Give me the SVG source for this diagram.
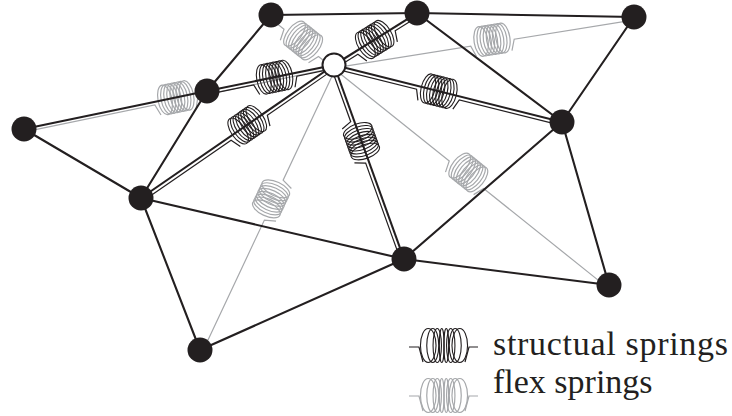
<svg xmlns="http://www.w3.org/2000/svg" xmlns:xlink="http://www.w3.org/1999/xlink" width="732" height="416" viewBox="0 0 732 416">
  <style>
    .edge { stroke:#231f20; stroke-width:2.1; fill:none; stroke-linecap:round; }
    .wire-s { stroke:#231f20; stroke-width:1.2; fill:none; }
    .wire-f { stroke:#a6a8ab; stroke-width:1.2; fill:none; }
    .coil-s { stroke:#231f20; stroke-width:1.1; fill:none; }
    .coil-f { stroke:#a6a8ab; stroke-width:1.2; fill:none; }
    .node { fill:#231f20; }
    .hub { fill:#ffffff; stroke:#231f20; stroke-width:2; }
    .label { font-family:"Liberation Serif", "Times New Roman", serif; font-size:34px; fill:#231f20; }
  </style>
  <defs>
    <!-- helical coil seen from the side, axis along x -->
    <g id="coil">
      <ellipse cx="-11" cy="0" rx="7" ry="15"/>
      <ellipse cx="-7.86" cy="0" rx="7" ry="15"/>
      <ellipse cx="-4.71" cy="0" rx="7" ry="15"/>
      <ellipse cx="-1.57" cy="0" rx="7" ry="15"/>
      <ellipse cx="1.57" cy="0" rx="7" ry="15"/>
      <ellipse cx="4.71" cy="0" rx="7" ry="15"/>
      <ellipse cx="7.86" cy="0" rx="7" ry="15"/>
      <ellipse cx="11" cy="0" rx="7" ry="15"/>
    </g>
    <!-- legend coil drawn in perspective -->
    <g id="lcoil">
      <ellipse cx="-15.75" cy="0" rx="7.8" ry="17"/>
      <ellipse cx="-11.25" cy="0" rx="6" ry="17"/>
      <ellipse cx="-6.75" cy="0" rx="4.2" ry="17"/>
      <ellipse cx="-2.25" cy="0" rx="2.4" ry="17"/>
      <ellipse cx="2.25" cy="0" rx="2.4" ry="17"/>
      <ellipse cx="6.75" cy="0" rx="4.2" ry="17"/>
      <ellipse cx="11.25" cy="0" rx="6" ry="17"/>
      <ellipse cx="15.75" cy="0" rx="7.8" ry="17"/>
    </g>
  </defs>

  <g id="connectors">
    <!-- flex springs (second neighbours) -->
    <g id="flex-E-O" transform="translate(24,129) rotate(-11.67)">
      <path class="wire-f" d="M0,3 H133 L137,14 M173,14 L177,3 H316.5"/>
      <use xlink:href="#coil" x="155" class="coil-f"/>
    </g>
    <g id="flex-A-O" transform="translate(271,15) rotate(38.44)">
      <path class="wire-f" d="M0,3 H19 L23,14 M59,14 L63,3 H80.4"/>
      <use xlink:href="#coil" x="41" class="coil-f"/>
    </g>
    <g id="flex-O-C" transform="translate(334,65) rotate(-9.09)">
      <path class="wire-f" d="M0,3 H138 L142,14 M178,14 L182,3 H303.8"/>
      <use xlink:href="#coil" x="160" class="coil-f"/>
    </g>
    <g id="flex-J-O" transform="translate(200,350) rotate(-64.82)">
      <path class="wire-f" d="M0,3 H145 L149,14 M185,14 L189,3 H314.9"/>
      <use xlink:href="#coil" x="167" class="coil-f"/>
    </g>
    <g id="flex-O-I" transform="translate(334,65) rotate(38.66)">
      <path class="wire-f" d="M0,3 H150 L154,14 M190,14 L194,3 H352.2"/>
      <use xlink:href="#coil" x="172" class="coil-f"/>
    </g>

    <!-- mesh edges -->
    <g id="edges">
      <line class="edge" x1="271" y1="15" x2="417" y2="13"/>
      <line class="edge" x1="417" y1="13" x2="634" y2="17"/>
      <line class="edge" x1="271" y1="15" x2="207" y2="91"/>
      <line class="edge" x1="417" y1="13" x2="562" y2="122"/>
      <line class="edge" x1="634" y1="17" x2="562" y2="122"/>
      <line class="edge" x1="24" y1="129" x2="207" y2="91"/>
      <line class="edge" x1="24" y1="129" x2="141" y2="198"/>
      <line class="edge" x1="207" y1="91" x2="141" y2="198"/>
      <line class="edge" x1="141" y1="198" x2="404" y2="259"/>
      <line class="edge" x1="141" y1="198" x2="200" y2="350"/>
      <line class="edge" x1="200" y1="350" x2="404" y2="259"/>
      <line class="edge" x1="404" y1="259" x2="562" y2="122"/>
      <line class="edge" x1="404" y1="259" x2="609" y2="285"/>
      <line class="edge" x1="562" y1="122" x2="609" y2="285"/>
    </g>

    <!-- structural springs from the hub -->
    <g id="struct-D-O" transform="translate(207,91) rotate(-11.57)">
      <line class="edge" x1="0" y1="0" x2="129.6" y2="0"/>
      <path class="wire-s" d="M0,3.5 H47 L51,14 M87,14 L91,3.5 H129.6"/>
      <use xlink:href="#coil" x="69" class="coil-s"/>
    </g>
    <g id="struct-O-B" transform="translate(334,65) rotate(-32.06)">
      <line class="edge" x1="0" y1="0" x2="97.9" y2="0"/>
      <path class="wire-s" d="M0,3.5 H26 L30,14 M66,14 L70,3.5 H97.9"/>
      <use xlink:href="#coil" x="48" class="coil-s"/>
    </g>
    <g id="struct-O-F" transform="translate(334,65) rotate(14.04)">
      <line class="edge" x1="0" y1="0" x2="235" y2="0"/>
      <path class="wire-s" d="M0,3.5 H86 L90,14 M126,14 L130,3.5 H235"/>
      <use xlink:href="#coil" x="108" class="coil-s"/>
    </g>
    <g id="struct-O-H" transform="translate(334,65) rotate(70.16)">
      <line class="edge" x1="0" y1="0" x2="206.2" y2="0"/>
      <path class="wire-s" d="M0,3.5 H59 L63,14 M99,14 L103,3.5 H206.2"/>
      <use xlink:href="#coil" x="81" class="coil-s"/>
    </g>
    <g id="struct-G-O" transform="translate(141,198) rotate(-34.57)">
      <line class="edge" x1="0" y1="0" x2="234.4" y2="0"/>
      <path class="wire-s" d="M0,3.5 H107 L111,14 M147,14 L151,3.5 H234.4"/>
      <use xlink:href="#coil" x="129" class="coil-s"/>
    </g>
  </g>

  <!-- mass points -->
  <g id="node-A"><circle class="node" cx="271" cy="15" r="12.5"/></g>
  <g id="node-B"><circle class="node" cx="417" cy="13" r="12.5"/></g>
  <g id="node-C"><circle class="node" cx="634" cy="17" r="12.5"/></g>
  <g id="node-D"><circle class="node" cx="207" cy="91" r="12.5"/></g>
  <g id="node-E"><circle class="node" cx="24" cy="129" r="12.5"/></g>
  <g id="node-F"><circle class="node" cx="562" cy="122" r="12.5"/></g>
  <g id="node-G"><circle class="node" cx="141" cy="198" r="12.5"/></g>
  <g id="node-H"><circle class="node" cx="404" cy="259" r="12.5"/></g>
  <g id="node-I"><circle class="node" cx="609" cy="285" r="12.5"/></g>
  <g id="node-J"><circle class="node" cx="200" cy="350" r="12.5"/></g>
  <g id="node-O"><circle class="hub" cx="334" cy="65" r="11.5"/></g>

  <!-- legend -->
  <g id="legend">
    <g id="legend-structural">
      <path class="wire-s" d="M409,347 H419 L423,362 M465,362 L469,347 H478"/>
      <use xlink:href="#lcoil" x="444" y="345.5" class="coil-s"/>
      <text class="label" x="493" y="355" textLength="235" lengthAdjust="spacing">structual springs</text>
    </g>
    <g id="legend-flex">
      <path class="wire-f" d="M409,396 H419 L423,411 M465,411 L469,396 H478"/>
      <use xlink:href="#lcoil" x="444" y="395.5" class="coil-f"/>
      <text class="label" x="493" y="393">flex springs</text>
    </g>
  </g>
</svg>
